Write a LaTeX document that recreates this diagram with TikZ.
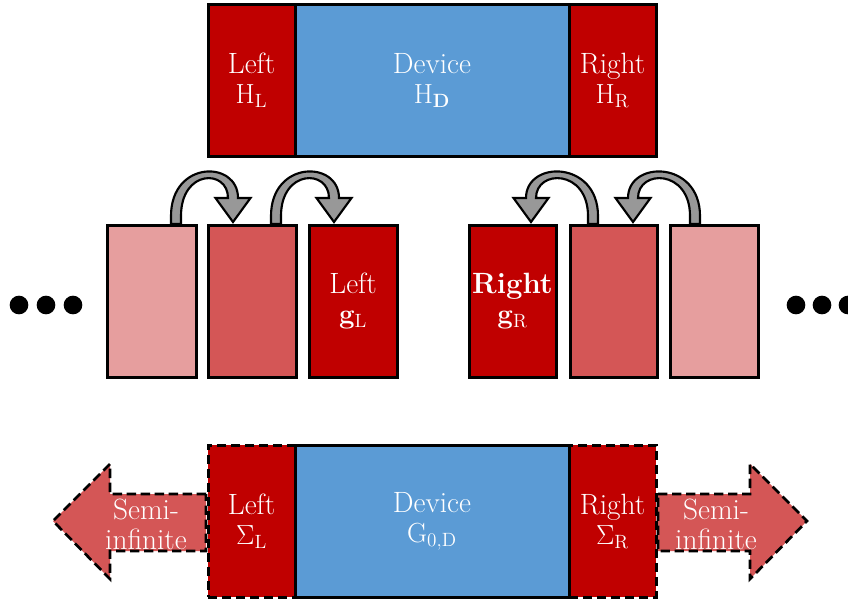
\documentclass[tikz,border=0pt]{standalone}
\usetikzlibrary{calc}
\definecolor{dred}{RGB}{192,0,0}
\definecolor{mred}{RGB}{212,86,86}
\definecolor{lred}{RGB}{230,158,158}
\definecolor{devblue}{RGB}{91,155,213}
\definecolor{arrgray}{RGB}{152,152,152}
\newcommand\bentarrow[3]{% #1 leg centre x, #2 head centre x, #3 direction (1 or -1)
  \draw[bentstyle]
    ({#1-5*#3},224) -- ({#1-5*#3},216)
    .. controls ({#1-5*#3},160) and ({#2+5*#3},160) .. ({#2+5*#3},198)
    -- ({#2+17.5*#3},198) -- (#2,222) -- ({#2-17.5*#3},198) -- ({#2-5*#3},198)
    .. controls ({#2-5*#3},169) and ({#1+5*#3},169) .. ({#1+5*#3},216)
    -- ({#1+5*#3},224) -- cycle;}
\begin{document}
\begin{tikzpicture}[x=0.75pt,y=-0.75pt,
  txt/.style={text=white, align=center, font=\fontsize{22}{22.5}\selectfont},
  blk/.style={draw=black, line width=2.25pt, minimum height=114pt, inner sep=0pt, txt},
  narrow/.style={blk, minimum width=65.25pt},
  wide/.style={blk, minimum width=205.5pt},
  dashedbox/.style={dash pattern=on 7pt off 3.5pt},
  bentstyle/.style={draw=black, line width=1.6pt, fill=arrgray, line join=miter},
  semiarrow/.style={draw=black, line width=2pt, fill=mred, dash pattern=on 7pt off 3.5pt},
  lbl/.style={txt, inner sep=0pt},
  dot/.style={circle, fill=black, minimum size=14pt, inner sep=0pt}
]
\useasboundingbox (0,0) rectangle (848,601);

% ---------- top row ----------
\node[narrow, fill=dred] (tl) at (251.5,80.5) {Left\\$\mathrm{H}_{\mathrm{L}}$};
\node[narrow, fill=dred] (tr) at (612.5,80.5) {Right\\$\mathrm{H}_{\mathrm{R}}$};
\node[wide, fill=devblue] (td) at (432,80.5) {Device\\$\mathrm{H}_{\mathbf{D}}$};

% ---------- middle row ----------
\node[narrow, fill=lred, minimum width=66.75pt] (l3) at (151.5,301) {};
\node[narrow, fill=mred, minimum width=66pt] (l2) at (252,301) {};
\node[narrow, fill=dred, minimum width=66pt] (l1) at (353,301) {Left\\$\mathbf{g}_{\mathrm{L}}$};
\node[narrow, fill=dred] (r1) at (512.5,301) {\textbf{Right}\\$\mathbf{g}_{\mathrm{R}}$};
\node[narrow, fill=mred] (r2) at (613.5,301) {};
\node[narrow, fill=lred, minimum width=66pt] (r3) at (714,301) {};

\bentarrow{176}{233}{1}
\bentarrow{276}{334}{1}
\bentarrow{593}{531}{-1}
\bentarrow{695}{633}{-1}

\node[dot] (dl1) at (19,305) {};
\node[dot] (dl2) at (46,305) {};
\node[dot] (dl3) at (73,305) {};
\node[dot] (dr1) at (796,305) {};
\node[dot] (dr2) at (822,305) {};
\node[dot] (dr3) at (848,305) {};

% ---------- bottom row ----------
\draw[semiarrow] (206,494) -- (110,494) -- (110,464) -- (53,521) -- (110,579) -- (110,551) -- (206,551) -- cycle;
\draw[semiarrow] (658,494) -- (750,494) -- (750,464) -- (807,521) -- (750,579) -- (750,551) -- (658,551) -- cycle;
\node[lbl] (sl) at (146,524) {Semi-\\infinite};
\node[lbl] (sr) at (716,524) {Semi-\\infinite};

\node[narrow, fill=dred, dashedbox] (bl) at (251.5,521) {Left\\$\Sigma_{\mathrm{L}}$};
\node[narrow, fill=dred, dashedbox] (br) at (612.5,521) {Right\\$\Sigma_{\mathrm{R}}$};
\node[wide, fill=devblue] (bd) at (432,521) {Device\\$\mathrm{G}_{0,\mathrm{D}}$};
\end{tikzpicture}
\end{document}
